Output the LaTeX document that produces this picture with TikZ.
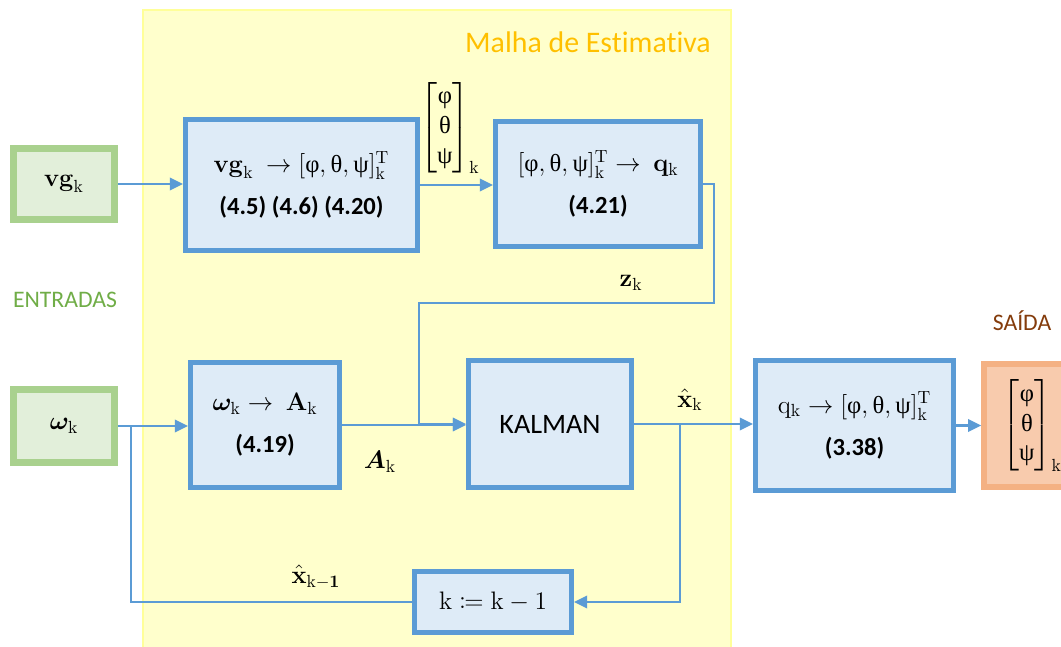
\documentclass[tikz,border=0pt]{standalone}
\usepackage{amsmath}
\usepackage{mathtools}
\usepackage{bm}
\usepackage[no-math]{fontspec}
\setmainfont{Carlito}[Ligatures={TeX,NoCommon}]
\newfontfamily\grk{Liberation Serif}
\usepackage{xcolor}
\definecolor{blockblue}{HTML}{5B9BD5}
\definecolor{blockfill}{HTML}{DEEBF7}
\definecolor{inputgreen}{HTML}{A9D18E}
\definecolor{inputfill}{HTML}{E2EFDA}
\definecolor{outputorange}{HTML}{F4B183}
\definecolor{outputfill}{HTML}{F8CBAD}
\definecolor{loopfill}{HTML}{FFFFCC}
\definecolor{loopdraw}{HTML}{FFFF99}
\definecolor{looptitle}{HTML}{FFC000}
\definecolor{entradacolor}{HTML}{70AD47}
\definecolor{saidacolor}{HTML}{843C0C}
\usetikzlibrary{arrows.meta, calc}

\newcommand{\grphi}{\text{\grk φ}}
\newcommand{\grtheta}{\text{\grk θ}}
\newcommand{\grpsi}{\text{\grk ψ}}
\newcommand{\eulervec}{[\grphi, \grtheta, \grpsi]^{\mathrm T}_{\mathrm k}}
\newcommand{\eulercol}{\begin{bmatrix}\grphi\\ \grtheta\\ \grpsi\end{bmatrix}_{\mathrm k}}

\begin{document}
\begin{tikzpicture}[
    x=0.02cm, y=-0.02cm,
    font=\fontsize{14}{17}\selectfont,
    block/.style={draw=blockblue, line width=2.8pt, fill=blockfill, align=center, inner sep=0pt},
    inbox/.style={draw=inputgreen, line width=3.8pt, fill=inputfill, align=center, inner sep=0pt, minimum width=2.02cm},
    outbox/.style={draw=outputorange, line width=3pt, fill=outputfill, align=center, inner sep=0pt},
    arrow/.style={-{Triangle[length=7.5pt, width=7pt]}, line width=1.4pt, draw=blockblue},
    line/.style={line width=1.4pt, draw=blockblue}
]
\useasboundingbox (0,0) rectangle (1061,646);

% Estimation loop area
\path[fill=loopfill, draw=loopdraw, line width=0.6pt] (143,10) rectangle (731,660);
\node[text=looptitle, font=\fontsize{17}{20}\selectfont] (title) at (588,42) {Malha de Estimativa};

% Inputs
\node[inbox, minimum height=1.42cm] (vg) at (64,184) {$\mathbf{vg}_{\mathrm k}$};
\node[inbox, minimum height=1.46cm] (omega) at (64,426) {$\bm{\omega}_{\mathrm k}$};
\node[text=entradacolor, font=\fontsize{13.5}{16}\selectfont] (entradas) at (65,300) {ENTRADAS};

% Estimation blocks
\node[block, minimum width=4.64cm, minimum height=2.62cm] (vgconv) at (301.5,185) {
    $\mathbf{vg}_{\mathrm k}\ \to \eulervec$\\[7pt]
    \textbf{(4.5) (4.6) (4.20)}
};
\node[block, minimum width=4.1cm, minimum height=2.5cm] (quat) at (598,184) {
    $\eulervec \to\ \mathbf{q}_{\mathrm k}$\\[7pt]
    \textbf{(4.21)}
};
\node[block, minimum width=2.98cm, minimum height=2.5cm] (trans) at (265,425) {
    $\bm{\omega}_{\mathrm k} \to\ \mathbf{A}_{\mathrm k}$\\[7pt]
    \textbf{(4.19)}
};
\node[block, minimum width=3.26cm, minimum height=2.54cm, font=\fontsize{16}{19}\selectfont] (kalman) at (550,424) {KALMAN};
\node[block, minimum width=3.14cm, minimum height=1.22cm] (kdec) at (493,602) {$\mathrm{k} \coloneqq \mathrm{k} - 1$};

% Output
\node[block, minimum width=3.96cm, minimum height=2.6cm] (euler) at (854.5,425.5) {
    $\mathrm{q}_{\mathrm k} \to \eulervec$\\[7pt]
    \textbf{(3.38)}
};
\node[outbox, minimum width=1.92cm, minimum height=2.46cm] (saida) at (1032,425.5) {$\eulercol$};
\node[text=saidacolor, font=\fontsize{13.5}{16}\selectfont] (saidatxt) at (1022,321) {SAÍDA};

% Connecting Arrows
\coordinate (ztop) at (714,303);
\coordinate (zbot) at (419,303);
\coordinate (join) at (131,426);
\coordinate (branch) at (680,424);

\draw[arrow] (vg.east) -- (vg.east -| vgconv.west);
\draw[arrow] (vgconv.east) -- (vgconv.east -| quat.west);
\draw[arrow] (quat.east) -| (ztop) -- (zbot) |- (kalman.west);
\draw[arrow] (omega.east) -- (omega.east -| trans.west);
\draw[arrow] (trans.east) -- (trans.east -| kalman.west);
\draw[arrow] (kalman.east) -- (kalman.east -| euler.west);
\draw[arrow] (euler.east) -- (euler.east -| saida.west);
\draw[arrow] (branch) |- (kdec.east);
\draw[line] (kdec.west) -| (join);

% Signal labels
\node (eullbl) at (450,128) {$\eulercol$};
\node (zlbl) at (631,283) {$\mathbf{z}_{\mathrm k}$};
\node (albl) at (380,462) {$\bm{A}_{\mathrm k}$};
\node (xlbl) at (690,400) {$\hat{\mathbf{x}}_{\mathrm k}$};
\node (xprev) at (316,577) {$\hat{\mathbf{x}}_{\mathrm{k}-\mathbf{1}}$};

\end{tikzpicture}
\end{document}
